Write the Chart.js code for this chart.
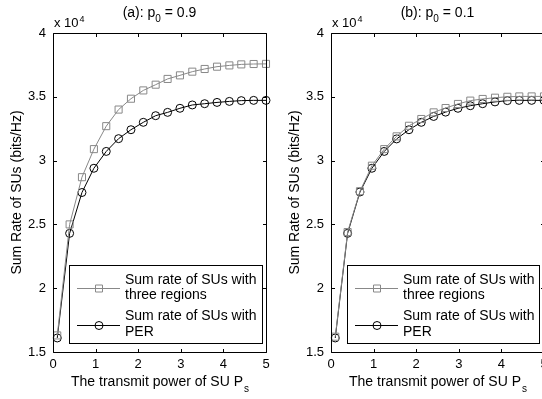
<!DOCTYPE html>
<html>
<head>
<meta charset="utf-8">
<script src="https://cdn.jsdelivr.net/npm/chart.js@4/dist/chart.umd.min.js"></script>
<style>
  html, body { margin: 0; padding: 0; background: #fff; width: 542px; height: 399px; overflow: hidden; }
  .panel { position: absolute; top: 0; width: 280px; height: 399px; }
</style>
</head>
<body>
<div class="panel" style="left:0"><canvas id="chartA" width="280" height="399"></canvas></div>
<div class="panel" style="left:278px"><canvas id="chartB" width="280" height="399"></canvas></div>
<script>
// transmit power of SU (x axis)
const powerValues = [0.1, 0.39, 0.68, 0.96, 1.25, 1.54, 1.83, 2.12, 2.41, 2.69, 2.98, 3.27, 3.56, 3.85, 4.14, 4.42, 4.71, 5.0];

// sum rate, in units of 10^4 bits/Hz
const threeRegionsA = [1.63, 2.50, 2.87, 3.09, 3.27, 3.40, 3.485, 3.55, 3.595, 3.64, 3.668, 3.697, 3.718, 3.736, 3.746, 3.754, 3.757, 3.758];
const perA = [1.61, 2.43, 2.75, 2.94, 3.072, 3.172, 3.242, 3.30, 3.352, 3.378, 3.41, 3.436, 3.446, 3.456, 3.464, 3.47, 3.472, 3.472];
const threeRegionsB = [1.62, 2.44, 2.76, 2.96, 3.09, 3.19, 3.273, 3.326, 3.378, 3.412, 3.444, 3.47, 3.483, 3.493, 3.50, 3.503, 3.503, 3.503];
const perB = [1.61, 2.43, 2.754, 2.94, 3.072, 3.17, 3.242, 3.30, 3.346, 3.38, 3.41, 3.43, 3.446, 3.46, 3.47, 3.472, 3.472, 3.472];

const xTicks = [0, 1, 2, 3, 4, 5];
const yTicks = [1.5, 2, 2.5, 3, 3.5, 4];

const labelThree = ['Sum rate of SUs with', 'three regions'];
const labelPer = ['Sum rate of SUs with', 'PER'];

const FONT = "'Liberation Sans', Arial, Helvetica, sans-serif";
const GRAY = '#888';

function pts(values) {
    return powerValues.map((x, i) => ({ x: x, y: values[i] }));
}

// box, inward ticks, title, axis titles and legend (MATLAB look)
const frame = {
    id: 'frame',
    afterDraw(chart, args, opts) {
        const ctx = chart.ctx;
        const a = chart.chartArea;
        const xs = chart.scales.x, ys = chart.scales.y;
        const tl = 3.5;
        ctx.save();
        ctx.strokeStyle = '#000';
        ctx.lineWidth = 1;
        const L = Math.round(a.left) + 0.5, R = Math.round(a.right) + 0.5;
        const T = Math.round(a.top) + 0.5, B = Math.round(a.bottom) + 0.5;
        ctx.beginPath();
        ctx.rect(L, T, R - L, B - T);
        xTicks.forEach(v => {
            const p = Math.round(xs.getPixelForValue(v)) + 0.5;
            ctx.moveTo(p, B); ctx.lineTo(p, B - tl);
            ctx.moveTo(p, T); ctx.lineTo(p, T + tl);
        });
        yTicks.forEach(v => {
            const p = Math.round(ys.getPixelForValue(v)) + 0.5;
            ctx.moveTo(L, p); ctx.lineTo(L + tl, p);
            ctx.moveTo(R, p); ctx.lineTo(R - tl, p);
        });
        ctx.stroke();

        ctx.fillStyle = '#000';
        ctx.textBaseline = 'alphabetic';
        ctx.textAlign = 'left';

        // title with subscript
        const cx = (a.left + a.right) / 2;
        const big = '14px ' + FONT, small = '10px ' + FONT;
        ctx.font = big;
        const w1 = ctx.measureText(opts.title[0]).width;
        const w3 = ctx.measureText(opts.title[2]).width;
        ctx.font = small;
        const w2 = ctx.measureText(opts.title[1]).width;
        let tx = cx - (w1 + w2 + w3) / 2;
        ctx.font = big; ctx.fillText(opts.title[0], tx, 17); tx += w1;
        ctx.font = small; ctx.fillText(opts.title[1], tx, 22); tx += w2;
        ctx.font = big; ctx.fillText(opts.title[2], tx, 17);

        // exponent label
        ctx.font = '13px ' + FONT;
        ctx.fillText('x 10', a.left + 1, 27);
        const ew = ctx.measureText('x 10').width;
        ctx.font = '9px ' + FONT;
        ctx.fillText('4', a.left + 2 + ew, 22);

        // x axis title
        ctx.font = big;
        const xt = 'The transmit power of SU P';
        const xw = ctx.measureText(xt).width;
        ctx.font = small;
        const sw = ctx.measureText('s').width;
        let xx = cx - (xw + sw) / 2;
        ctx.font = big; ctx.fillText(xt, xx, 386);
        ctx.font = small; ctx.fillText('s', xx + xw + 1, 392);

        // y axis title
        ctx.save();
        ctx.translate(17, (a.top + a.bottom) / 2);
        ctx.rotate(-Math.PI / 2);
        ctx.font = big;
        ctx.textAlign = 'center';
        ctx.textBaseline = 'middle';
        ctx.fillText('Sum Rate of SUs (bits/Hz)', 0, 0);
        ctx.restore();

        // legend
        const lx = 69.5, ly = 265.5, lr = opts.legendRight + 0.5, lb = 343.5;
        ctx.fillStyle = '#fff';
        ctx.fillRect(lx, ly, lr - lx, lb - ly);
        ctx.strokeStyle = '#000';
        ctx.strokeRect(lx, ly, lr - lx, lb - ly);
        ctx.font = big;
        ctx.textBaseline = 'middle';
        chart.data.datasets.forEach((ds, i) => {
            const top = 280 + i * 36.5;
            ctx.fillStyle = '#000';
            ds.label.forEach((line, j) => ctx.fillText(line, 125, top + j * 15.3));
            const my = Math.round(top + 8) + 0.5;
            ctx.strokeStyle = ds.borderColor;
            ctx.beginPath();
            ctx.moveTo(77, my); ctx.lineTo(120, my);
            ctx.stroke();
            ctx.beginPath();
            ctx.fillStyle = '#fff';
            if (ds.pointStyle === 'rect') {
                ctx.rect(95.5, my - 3.5, 7, 7);
            } else {
                ctx.arc(99, my, 4, 0, Math.PI * 2);
            }
            ctx.stroke();
        });
        ctx.restore();
    }
};

function makeChart(id, squares, circles, title, legendRight) {
    return new Chart(document.getElementById(id), {
        type: 'line',
        data: {
            datasets: [
                {
                    label: labelThree,
                    data: pts(squares),
                    borderColor: GRAY,
                    borderWidth: 1,
                    pointStyle: 'rect',
                    pointRadius: 5,
                    pointBorderWidth: 1,
                    pointBorderColor: GRAY,
                    pointBackgroundColor: 'rgba(0,0,0,0)',
                    clip: false
                },
                {
                    label: labelPer,
                    data: pts(circles),
                    borderColor: '#000',
                    borderWidth: 1,
                    pointStyle: 'circle',
                    pointRadius: 4,
                    pointBorderWidth: 1,
                    pointBorderColor: '#000',
                    pointBackgroundColor: 'rgba(0,0,0,0)',
                    clip: false
                }
            ]
        },
        options: {
            responsive: false,
            animation: false,
            layout: { padding: { left: 0, right: 14, top: 33, bottom: 0 } },
            plugins: {
                legend: { display: false },
                tooltip: { enabled: false },
                frame: { title: title, legendRight: legendRight }
            },
            scales: {
                x: {
                    type: 'linear',
                    min: 0, max: 5,
                    afterBuildTicks: s => { s.ticks = xTicks.map(v => ({ value: v })); },
                    afterFit: s => { s.height = 47; },
                    grid: { display: false, drawTicks: false },
                    border: { display: false },
                    ticks: { padding: 5, color: '#000', maxRotation: 0, font: { family: FONT, size: 13 },
                             callback: v => String(v) }
                },
                y: {
                    min: 1.5, max: 4,
                    afterBuildTicks: s => { s.ticks = yTicks.map(v => ({ value: v })); },
                    afterFit: s => { s.width = 53; },
                    grid: { display: false, drawTicks: false },
                    border: { display: false },
                    ticks: { padding: 7, color: '#000', font: { family: FONT, size: 13 },
                             callback: v => String(v) }
                }
            }
        },
        plugins: [frame]
    });
}

makeChart('chartA', threeRegionsA, perA, ['(a): p', '0', ' = 0.9'], 262);
makeChart('chartB', threeRegionsB, perB, ['(b): p', '0', ' = 0.1'], 261);
</script>
</body>
</html>
